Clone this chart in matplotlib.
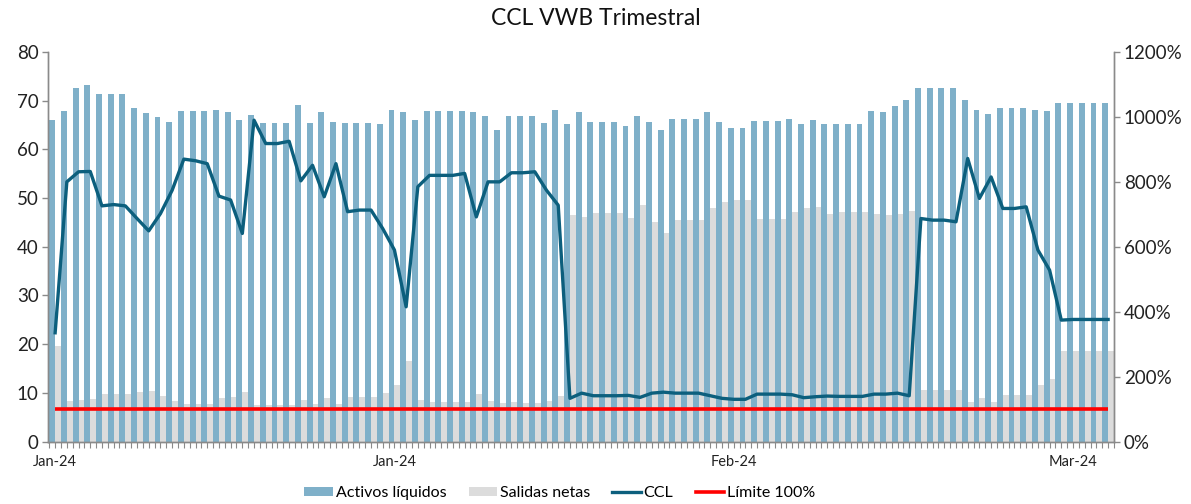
import numpy as np
import matplotlib
matplotlib.use("Agg")
import matplotlib.pyplot as plt
from matplotlib.patches import Patch
from matplotlib.lines import Line2D

plt.rcParams['font.family'] = ['Lato', 'DejaVu Sans']

# datos (91 periodos)
activos = [
    66.0, 67.8, 72.7, 73.3, 71.3, 71.3, 71.3, 68.6, 67.4, 66.6,
    65.6, 67.8, 67.8, 67.8, 68.0, 67.7, 66.0, 67.1, 65.4, 65.4,
    65.4, 69.2, 65.4, 67.6, 65.6, 65.4, 65.4, 65.4, 65.3, 68.0,
    67.7, 66.0, 67.8, 67.8, 67.8, 67.8, 67.6, 66.8, 64.0, 66.8,
    66.8, 66.8, 65.5, 68.0, 65.2, 67.7, 65.6, 65.6, 65.6, 64.8,
    66.9, 65.6, 63.9, 66.2, 66.2, 66.2, 67.7, 65.6, 64.4, 64.4,
    65.8, 65.8, 65.8, 66.3, 65.2, 66.0, 65.3, 65.3, 65.3, 65.3,
    67.8, 67.6, 69.0, 70.2, 72.7, 72.7, 72.7, 72.7, 70.2, 68.0,
    67.2, 68.6, 68.6, 68.6, 68.0, 67.8, 69.6, 69.6, 69.6, 69.6,
    69.6,
]
salidas = [
    19.7, 8.4, 8.6, 8.7, 9.7, 9.7, 9.7, 10.1, 10.3, 9.3,
    8.4, 7.7, 7.7, 7.7, 8.9, 9.1, 10.1, 7.4, 7.4, 7.4,
    7.4, 8.6, 7.7, 8.9, 7.7, 9.2, 9.2, 9.2, 10.0, 11.6,
    16.5, 8.5, 8.2, 8.2, 8.2, 8.2, 9.8, 8.4, 7.9, 8.2,
    8.0, 8.0, 8.4, 9.3, 46.5, 46.2, 46.9, 46.9, 46.9, 45.9,
    48.6, 45.1, 42.9, 45.4, 45.4, 45.4, 48.0, 49.1, 49.6, 49.6,
    45.7, 45.7, 45.7, 47.1, 47.9, 48.2, 46.7, 47.1, 47.1, 47.1,
    46.7, 46.6, 46.7, 47.4, 10.5, 10.5, 10.5, 10.5, 8.2, 9.0,
    8.2, 9.5, 9.5, 9.5, 11.6, 12.9, 18.6, 18.6, 18.6, 18.6,
    18.6,
]
ccl = [
    335, 800, 831, 832, 726, 730, 726, 687, 649, 702,
    774, 870, 865, 856, 756, 744, 641, 990, 918, 918,
    925, 803, 851, 754, 856, 708, 713, 713, 656, 590,
    415, 785, 820, 820, 820, 826, 692, 800, 800, 828,
    828, 831, 774, 728, 133, 149, 141, 141, 141, 142,
    136, 149, 152, 149, 149, 149, 141, 133, 130, 130,
    146, 146, 146, 144, 135, 138, 140, 139, 139, 139,
    146, 146, 149, 141, 687, 682, 682, 677, 872, 749,
    815, 718, 718, 723, 590, 528, 374, 376, 376, 376,
    376,
]
limite = [100] * len(ccl)

etiquetas = ["Jan-24", "Jan-24", "Feb-24", "Mar-24"]
pos_etiquetas = [0, 29, 58, 87]

c_azul = "#7fb0c9"
c_gris = "#dcdcdc"
c_ccl = "#0c5f7d"
c_rojo = "#ff0000"
c_eje = "#8a8a8a"

x = np.arange(len(activos))

fig = plt.figure(figsize=(11.91, 5.04), dpi=100)
ax = fig.add_axes([0.0407, 0.124, 0.8946, 0.7728])
ax2 = ax.twinx()

ax.bar(x + 0.25, salidas, width=0.5, color=c_gris, zorder=1)
ax.bar(x - 0.25, activos, width=0.5, color=c_azul, zorder=2)

ax2.plot(x, limite, color=c_rojo, lw=2.6, solid_capstyle='butt')
ax2.plot(x, ccl, color=c_ccl, lw=2.4)

ax.set_xlim(-0.57, 90.5)
ax.set_ylim(0, 80)
ax.set_yticks(np.arange(0, 81, 10))
ax2.set_ylim(0, 1200)
ax2.set_yticks(np.arange(0, 1201, 200))
ax2.set_yticklabels([f"{v}%" for v in range(0, 1201, 200)])

ax.set_xticks(pos_etiquetas)
ax.set_xticklabels(etiquetas)
ax.set_xticks(np.arange(-0.5, 90.6, 0.5), minor=True)

for a in (ax, ax2):
    a.spines['top'].set_visible(False)
    for s in ('left', 'right', 'bottom'):
        a.spines[s].set_color(c_eje)
        a.spines[s].set_linewidth(1.0)
    a.tick_params(axis='y', colors=c_eje, labelcolor='#222222', labelsize=13.5, length=4, width=1, pad=3)
ax.tick_params(axis='x', which='both', colors=c_eje, labelcolor='#222222', labelsize=10.5, length=4, width=0.8, pad=6)

fig.suptitle("CCL VWB Trimestral", y=0.985, fontsize=16.5, color='#111111')

handles = [
    Patch(facecolor=c_azul, edgecolor='none'),
    Patch(facecolor=c_gris, edgecolor='none'),
    Line2D([0], [0], color=c_ccl, lw=2.4),
    Line2D([0], [0], color=c_rojo, lw=2.6),
]
fig.legend(handles, ["Activos líquidos", "Salidas netas", "CCL", "Límite 100%"],
           loc='center', bbox_to_anchor=(0.47, 0.022), ncol=4, frameon=False,
           fontsize=11.5, handlelength=1.8, handleheight=0.5, handletextpad=0.15,
           columnspacing=1.4)

fig.savefig("out.png", dpi=100)
